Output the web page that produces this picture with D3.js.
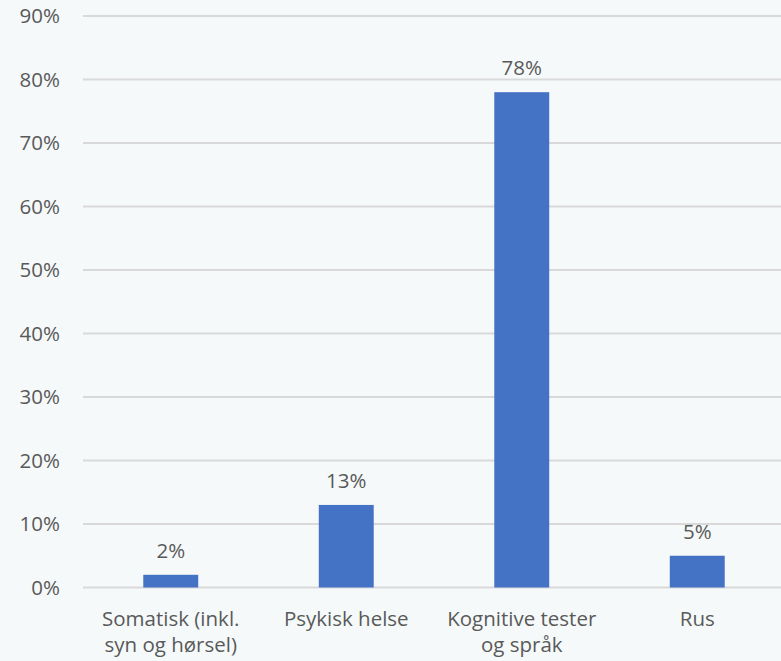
<!DOCTYPE html>
<html lang="no">
<head>
    <meta charset="UTF-8">
    <title>Andel per kategori</title>
    <script src="https://d3js.org/d3.v7.min.js"></script>
    <style>
        body { margin: 0; background: #f5f9fa; }
        svg { display: block; }
        text { font-family: "Open Sans", Arial, sans-serif; fill: #595959; }
        .grid line { stroke: #d9d9d9; stroke-width: 2px; }
    </style>
</head>
<body>
    <svg width="781" height="661"></svg>
    <script>
        const categories = [["Somatisk (inkl.", "syn og hørsel)"], ["Psykisk helse"], ["Kognitive tester", "og språk"], ["Rus"]];
        const values = [0.02, 0.13, 0.78, 0.05];
        const yTicks = [0, 0.1, 0.2, 0.3, 0.4, 0.5, 0.6, 0.7, 0.8, 0.9];

        const svg = d3.select("svg");
        const plotLeft = 83, plotRight = 785, plotTop = 16, plotBottom = 587.5;
        const fontSize = 20.5;

        const x = d3.scaleBand()
            .domain(d3.range(categories.length))
            .range([plotLeft, plotRight])
            .paddingInner(0.687)
            .paddingOuter(0.3435);

        const y = d3.scaleLinear().domain([0, 0.9]).range([plotBottom, plotTop]);

        // gridlines
        svg.append("g").attr("class", "grid")
            .selectAll("line").data(yTicks).enter().append("line")
            .attr("x1", plotLeft).attr("x2", 781)
            .attr("y1", d => y(d)).attr("y2", d => y(d));

        // y axis labels
        svg.append("g").selectAll("text").data(yTicks).enter().append("text")
            .attr("x", 60)
            .attr("y", d => y(d))
            .attr("dy", "0.36em")
            .attr("text-anchor", "end")
            .attr("font-size", fontSize)
            .text(d3.format(".0%"));

        // bars
        svg.append("g").selectAll("rect").data(values).enter().append("rect")
            .attr("x", (d, i) => x(i))
            .attr("width", x.bandwidth())
            .attr("y", d => y(d))
            .attr("height", d => y(0) - y(d))
            .attr("fill", "#4472c4");

        // value labels
        svg.append("g").selectAll("text").data(values).enter().append("text")
            .attr("x", (d, i) => x(i) + x.bandwidth() / 2)
            .attr("y", d => y(d) - 17)
            .attr("text-anchor", "middle")
            .attr("font-size", fontSize)
            .text(d3.format(".0%"));

        // category labels
        const cat = svg.append("g").selectAll("text").data(categories).enter().append("text")
            .attr("x", (d, i) => x(i) + x.bandwidth() / 2)
            .attr("y", 626)
            .attr("text-anchor", "middle")
            .attr("font-size", fontSize);
        cat.selectAll("tspan").data(d => d).enter().append("tspan")
            .attr("x", function () { return d3.select(this.parentNode).attr("x"); })
            .attr("dy", (d, i) => i === 0 ? 0 : 26)
            .text(d => d);
    </script>
</body>
</html>
